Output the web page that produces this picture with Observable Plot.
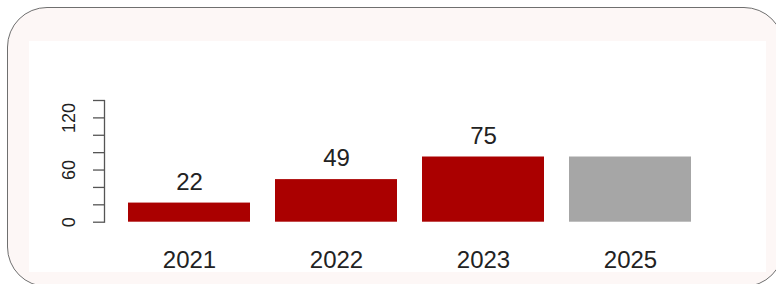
<!DOCTYPE html>
<html>
<head>
<meta charset="utf-8">
<script src="https://cdn.jsdelivr.net/npm/d3@7"></script>
<script src="https://cdn.jsdelivr.net/npm/@observablehq/plot@0.6"></script>
<style>
  html, body { margin: 0; padding: 0; background: #ffffff; overflow: hidden; }
  #wrap { position: relative; width: 776px; height: 284px; overflow: hidden; font-family: "Liberation Sans", Arial, sans-serif; }
  #box { position: absolute; left: 7px; top: 7px; width: 775px; height: 278px; border: 1px solid #6f6f6f; border-radius: 40px; background: #fdf7f6; }
  #plot { position: absolute; left: 29px; top: 41px; width: 737px; height: 231px; background: #ffffff; }
</style>
</head>
<body>
<div id="wrap"><div id="box"></div><div id="plot"></div></div>
<script>
const years = ["2021", "2022", "2023", "2025"];
const values = [22, 49, 75, 75];
const barColors = ["#aa0000", "#aa0000", "#aa0000", "#a6a6a6"];
const valueLabels = ["22", "49", "75", ""];
const yTicks = [0, 20, 40, 60, 80, 100, 120, 140];
const yTickLabels = [0, 60, 120];

const data = years.map((y, i) => ({year: y, value: values[i], color: barColors[i], label: valueLabels[i]}));

const chart = Plot.plot({
  width: 737,
  height: 231,
  marginLeft: 75,
  marginRight: 49.6,
  marginTop: 59,
  marginBottom: 50.3,
  style: {background: "transparent", fontFamily: "'Liberation Sans', Arial, sans-serif"},
  x: {domain: years, paddingInner: 0.2 / 1.2, paddingOuter: 0.1608, axis: null},
  y: {domain: [0, 140], axis: null},
  marks: [
    Plot.barY(data, {x: "year", y: "value", fill: "color"}),
    Plot.text(data.filter(d => d.label !== ""), {x: "year", y: "value", text: "label", dy: -21, lineAnchor: "middle", fontSize: 24, fill: "#222"}),
    Plot.text(data, {x: "year", text: "year", frameAnchor: "bottom", dy: 38, lineAnchor: "middle", fontSize: 24, fill: "#222"}),
    Plot.axisY({ticks: yTicks, tickSize: 11, tickFormat: () => "", label: null, stroke: "#555", strokeWidth: 1.3}),
    Plot.frame({anchor: "left", stroke: "#555", strokeWidth: 1.3}),
    Plot.text(yTickLabels, {y: d => d, text: d => String(d), frameAnchor: "left", dx: -35, rotate: -90, textAnchor: "middle", lineAnchor: "middle", fontSize: 18, fill: "#222"})
  ]
});
document.getElementById("plot").appendChild(chart);
</script>
</body>
</html>
